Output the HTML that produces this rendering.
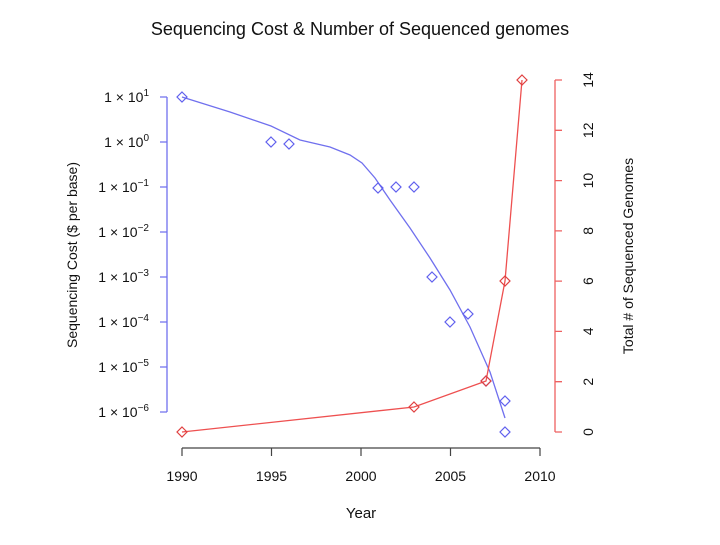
<!DOCTYPE html>
<html><head><style>body{margin:0;background:#fff}</style></head><body>
<svg width="720" height="540" xmlns="http://www.w3.org/2000/svg" font-family="Liberation Sans, sans-serif">
<rect width="720" height="540" fill="#fff"/>
<text x="360" y="35" font-size="18" text-anchor="middle" fill="#111">Sequencing Cost &amp; Number of Sequenced genomes</text>
<g stroke="#444" stroke-width="1.2" fill="none">
<path d="M182 448H540M182 448v8M271.5 448v8M361 448v8M450.5 448v8M540 448v8"/>
</g>
<g font-size="14" text-anchor="middle" fill="#111">
<text x="182" y="481">1990</text><text x="271.5" y="481">1995</text><text x="361" y="481">2000</text><text x="450.5" y="481">2005</text><text x="540" y="481">2010</text>
<text x="361" y="518" font-size="15">Year</text>
</g>
<g stroke="#7070ee" stroke-width="1.3" fill="none">
<path d="M167 97V412M160 97h7M160 142h7M160 187h7M160 232h7M160 277h7M160 322h7M160 367h7M160 412h7"/>
</g>
<g font-size="14" text-anchor="end" fill="#111">
<text x="149" y="102">1 × 10<tspan dy="-6" font-size="10">1</tspan></text>
<text x="149" y="147">1 × 10<tspan dy="-6" font-size="10">0</tspan></text>
<text x="149" y="192">1 × 10<tspan dy="-6" font-size="10">−1</tspan></text>
<text x="149" y="237">1 × 10<tspan dy="-6" font-size="10">−2</tspan></text>
<text x="149" y="282">1 × 10<tspan dy="-6" font-size="10">−3</tspan></text>
<text x="149" y="327">1 × 10<tspan dy="-6" font-size="10">−4</tspan></text>
<text x="149" y="372">1 × 10<tspan dy="-6" font-size="10">−5</tspan></text>
<text x="149" y="417">1 × 10<tspan dy="-6" font-size="10">−6</tspan></text>
</g>
<text transform="translate(77,255) rotate(-90)" font-size="14" text-anchor="middle" fill="#111">Sequencing Cost ($ per base)</text>
<g stroke="#ee6060" stroke-width="1.3" fill="none">
<path d="M555 80V432M555 80h7M555 130.3h7M555 180.6h7M555 230.9h7M555 281.1h7M555 331.4h7M555 381.7h7M555 432h7"/>
</g>
<g font-size="14" text-anchor="middle" fill="#111">
<text transform="translate(593,432) rotate(-90)">0</text>
<text transform="translate(593,381.7) rotate(-90)">2</text>
<text transform="translate(593,331.4) rotate(-90)">4</text>
<text transform="translate(593,281.1) rotate(-90)">6</text>
<text transform="translate(593,230.9) rotate(-90)">8</text>
<text transform="translate(593,180.6) rotate(-90)">10</text>
<text transform="translate(593,130.3) rotate(-90)">12</text>
<text transform="translate(593,80) rotate(-90)">14</text>
</g>
<text transform="translate(633,256) rotate(-90)" font-size="14" text-anchor="middle" fill="#111">Total # of Sequenced Genomes</text>
<path d="M182 97 L230 112 L271 126 L300 140 L330 147 L350 155 L362 163 L375 178 L390 200 L410 228 L430 258 L450 290 L470 327 L490 372 L505 418" fill="none" stroke="#7070ee" stroke-width="1.3"/>
<g fill="none" stroke="#6060ee" stroke-width="1.2">
<path d="M182 92l5 5-5 5-5-5z"/><path d="M271 137l5 5-5 5-5-5z"/><path d="M289 139l5 5-5 5-5-5z"/>
<path d="M378 183l5 5-5 5-5-5z"/><path d="M396 182l5 5-5 5-5-5z"/><path d="M414 182l5 5-5 5-5-5z"/>
<path d="M432 272l5 5-5 5-5-5z"/><path d="M450 317l5 5-5 5-5-5z"/><path d="M468 309l5 5-5 5-5-5z"/>
<path d="M486 376l5 5-5 5-5-5z"/><path d="M505 396l5 5-5 5-5-5z"/><path d="M505 427l5 5-5 5-5-5z"/>
</g>
<path d="M182 432L414 407L486 381L505 281L522 80" fill="none" stroke="#ee5050" stroke-width="1.3"/>
<g fill="none" stroke="#e04040" stroke-width="1.2">
<path d="M182 427l5 5-5 5-5-5z"/><path d="M414 402l5 5-5 5-5-5z"/><path d="M486 376l5 5-5 5-5-5z"/>
<path d="M505 276l5 5-5 5-5-5z"/><path d="M522 75l5 5-5 5-5-5z"/>
</g>
</svg>
</body></html>
